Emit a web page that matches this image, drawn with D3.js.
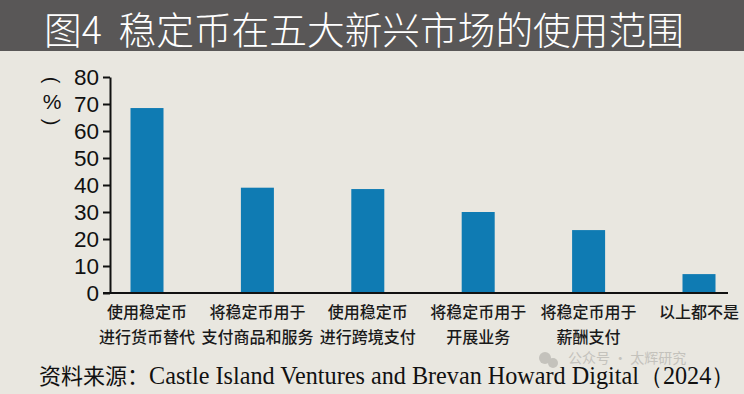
<!DOCTYPE html>
<html>
<head>
<meta charset="utf-8">
<script src="https://cdn.jsdelivr.net/npm/d3@7"></script>
<style>
  html, body { margin: 0; padding: 0; background: #e9e7e0; }
  svg { display: block; }
</style>
</head>
<body>
<svg id="chart" width="744" height="394"></svg>
<script>
// data
const categories = ["c1", "c2", "c3", "c4", "c5", "c6"];
const labelLines = [
  ["使用稳定币", "进行货币替代"],
  ["将稳定币用于", "支付商品和服务"],
  ["使用稳定币", "进行跨境支付"],
  ["将稳定币用于", "开展业务"],
  ["将稳定币用于", "薪酬支付"],
  ["以上都不是", ""]
];
const values = [68.5, 39, 38.5, 30, 23.3, 7];
const yTicks = [0, 10, 20, 30, 40, 50, 60, 70, 80];

const title = "图4  稳定币在五大新兴市场的使用范围";
const source = "资料来源：";
const sourceEn = "Castle Island Ventures and Brevan Howard Digital（2024）";

const cjk = "'Noto Sans CJK SC', 'Noto Sans', sans-serif";
const sans = "'Liberation Sans', Arial, sans-serif";

const svg = d3.select("#chart");
const W = 744, H = 394;

svg.append("rect").attr("width", W).attr("height", H).attr("fill", "#e9e7e0");

// title bar
svg.append("rect").attr("width", W).attr("height", 51).attr("fill", "#595757");
svg.append("text")
  .attr("x", 44).attr("y", 27)
  .attr("dominant-baseline", "central")
  .attr("fill", "#ffffff")
  .attr("font-family", cjk)
  .attr("font-weight", 300)
  .attr("font-size", 37.7)
  .style("white-space", "pre")
  .text(title);

// scales
const axisX = 110, axisEnd = 728;
const y = d3.scaleLinear().domain([0, 80]).range([293, 77]);
const x = d3.scalePoint().domain(categories).range([147, 699]);
const barW = 33;

// bars
svg.append("g").selectAll("rect")
  .data(values)
  .join("rect")
  .attr("x", (d, i) => x(categories[i]) - barW / 2)
  .attr("y", d => y(d))
  .attr("width", barW)
  .attr("height", d => y(0) - y(d))
  .attr("fill", "#0f7bb3");

// y axis
const yAxis = svg.append("g")
  .attr("transform", `translate(${axisX},0)`)
  .call(d3.axisLeft(y).tickValues(yTicks).tickSize(7).tickPadding(4).tickSizeOuter(0));
yAxis.select(".domain").attr("stroke", "#111").attr("stroke-width", 2);
yAxis.selectAll(".tick line").attr("stroke", "#111").attr("stroke-width", 2);
yAxis.selectAll(".tick text")
  .attr("fill", "#111")
  .attr("font-family", sans)
  .attr("font-size", 22.5);

// baseline
svg.append("line")
  .attr("x1", axisX - 7).attr("x2", axisEnd)
  .attr("y1", y(0)).attr("y2", y(0))
  .attr("stroke", "#111").attr("stroke-width", 2.2);

// unit label (%) written vertically: rotated brackets around an upright %
const unit = svg.append("g").attr("font-family", sans).attr("fill", "#111").attr("text-anchor", "middle");
unit.append("text").attr("transform", "translate(52,80) rotate(90)")
  .attr("font-size", 20).attr("dominant-baseline", "central").text("(");
unit.append("text").attr("x", 52).attr("y", 101).attr("font-size", 21)
  .attr("dominant-baseline", "central").text("%");
unit.append("text").attr("transform", "translate(52,122) rotate(90)")
  .attr("font-size", 20).attr("dominant-baseline", "central").text(")");

// category labels
const lab = svg.append("g").attr("font-family", cjk).attr("font-size", 16)
  .attr("font-weight", 500).attr("fill", "#1a1a1a").attr("text-anchor", "middle");
labelLines.forEach((lines, i) => {
  const cx = x(categories[i]);
  lines.forEach((t, j) => {
    if (!t) return;
    lab.append("text").attr("x", cx).attr("y", 318 + j * 25).text(t);
  });
});

// watermark (faint, sits over the source line as in the original)
const wm = svg.append("g").attr("fill", "#c4c2bc");
wm.append("circle").attr("cx", 545).attr("cy", 358).attr("r", 6);
wm.append("circle").attr("cx", 553).attr("cy", 363).attr("r", 5);
wm.append("text").attr("x", 568).attr("y", 363)
  .attr("font-family", cjk).attr("font-size", 14)
  .style("white-space", "pre")
  .text("公众号 · 太辉研究");

// source
const src = svg.append("text").attr("x", 39).attr("y", 384).attr("fill", "#111");
src.append("tspan").attr("font-family", cjk).attr("font-size", 22).text(source);
src.append("tspan").attr("font-family", "'Liberation Serif', 'Times New Roman', serif")
  .attr("font-size", 24.2).text(sourceEn);
</script>
</body>
</html>
